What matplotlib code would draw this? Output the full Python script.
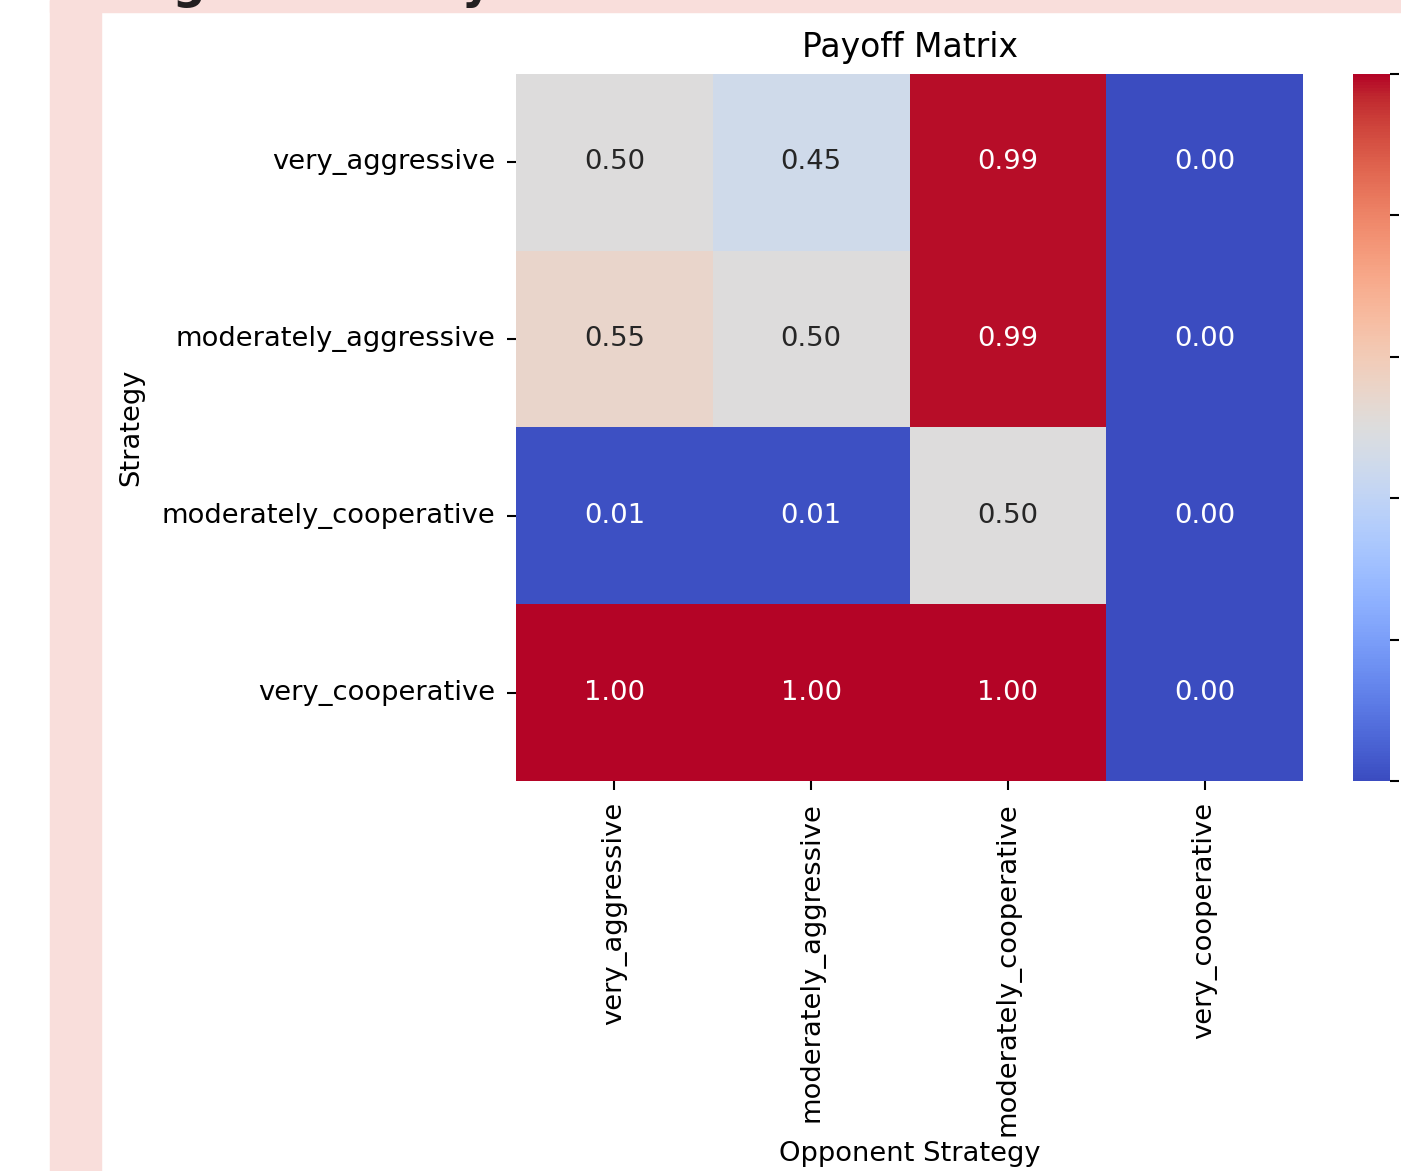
import numpy as np
import matplotlib
matplotlib.use("Agg")
import matplotlib.pyplot as plt
import seaborn as sns

plt.rc('font', size=19.7)
plt.rc('axes', titlesize=23.8, labelsize=19.7)
plt.rc('xtick', labelsize=19.7)
plt.rc('ytick', labelsize=19.7)

estrategias = ["very_aggressive", "moderately_aggressive",
               "moderately_cooperative", "very_cooperative"]

pagos = np.array([
    [0.50, 0.45, 0.99, 0.00],
    [0.55, 0.50, 0.99, 0.00],
    [0.01, 0.01, 0.50, 0.00],
    [1.00, 1.00, 1.00, 0.00],
])

rosa = '#f9dedb'

fig = plt.figure(figsize=(14.01, 11.71), dpi=100, facecolor='white')

# Marco de la diapositiva
fig.patches.append(plt.Rectangle((50/1401, 0), 51/1401, 1, transform=fig.transFigure,
                                 color=rosa, zorder=0))
fig.patches.append(plt.Rectangle((50/1401, 1 - 12/1171), 1351/1401, 12/1171,
                                 transform=fig.transFigure, color=rosa, zorder=0))
fig.text(103/1401, 1 + 2/1171, "Negotiation Dynamics", fontsize=33, fontweight='bold',
         color='#231f20', ha='left', va='baseline')

ax = fig.add_axes([516/1401, 390/1171, 787/1401, 707/1171])
cax = fig.add_axes([1353/1401, 390/1171, 37/1401, 707/1171])

sns.heatmap(pagos, annot=True, fmt='.2f', cmap='coolwarm', vmin=0, vmax=1,
            xticklabels=estrategias, yticklabels=estrategias,
            ax=ax, cbar_ax=cax, annot_kws={'size': 19.7})

ax.set_title('Payoff Matrix', pad=12)
ax.set_xlabel('Opponent Strategy')
ax.set_ylabel('Strategy', labelpad=12)
ax.tick_params(length=6.6, width=1.5, pad=8.5)
plt.setp(ax.get_xticklabels(), rotation=90)
plt.setp(ax.get_yticklabels(), rotation=0)

# las etiquetas de la barra de color quedan fuera del lienzo
cax.set_yticks([0.0, 0.2, 0.4, 0.6, 0.8, 1.0])
cax.tick_params(length=6.6, width=1.5, labelright=False)

fig.savefig("out.png", dpi=100)
